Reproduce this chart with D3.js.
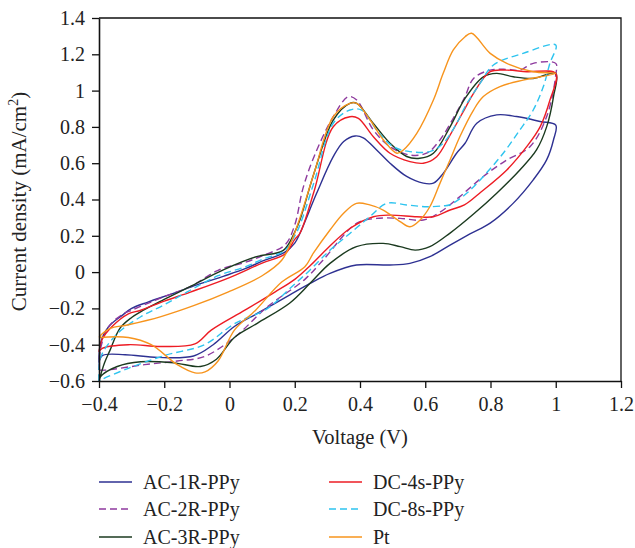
<!DOCTYPE html>
<html>
<head>
<meta charset="utf-8">
<script src="https://cdn.jsdelivr.net/npm/d3@7"></script>
<style>
body{margin:0;background:#fff}
.chart text{font-family:"Liberation Serif","Times New Roman",serif;fill:#222}
</style>
</head>
<body>
<div class="chart"></div>
<script>
// CV loops: [voltage V, current density mA/cm2], forward scan then reverse scan
const ac1R=[[-0.4,-0.5],[-0.395,-0.39],[-0.37,-0.3],[-0.33,-0.24],[-0.3,-0.2],[-0.25,-0.165],[-0.17,-0.116],[-0.1,-0.07],[-0.017,-0.022],[0.05,0.02],[0.1,0.06],[0.17,0.11],[0.2,0.16],[0.216,0.214],[0.267,0.434],[0.318,0.636],[0.35,0.72],[0.385,0.75],[0.41,0.74],[0.451,0.673],[0.492,0.6],[0.543,0.527],[0.594,0.49],[0.625,0.49],[0.655,0.544],[0.696,0.655],[0.722,0.71],[0.758,0.82],[0.819,0.866],[0.88,0.857],[0.952,0.83],[1.0,0.81],
	[0.993,0.728],[0.972,0.618],[0.931,0.508],[0.87,0.38],[0.799,0.27],[0.737,0.21],[0.676,0.149],[0.614,0.085],[0.553,0.048],[0.492,0.039],[0.389,0.039],[0.308,-0.007],[0.247,-0.062],[0.185,-0.125],[0.085,-0.228],[0.015,-0.3],[-0.05,-0.4],[-0.11,-0.462],[-0.22,-0.47],[-0.32,-0.455],[-0.39,-0.46],[-0.4,-0.5]]

const ac2R=[[-0.4,-0.54],[-0.395,-0.42],[-0.37,-0.3],[-0.33,-0.235],[-0.3,-0.21],[-0.2,-0.135],[-0.12,-0.08],[-0.035,0.01],[0.05,0.055],[0.1,0.09],[0.17,0.15],[0.2,0.26],[0.225,0.46],[0.26,0.64],[0.318,0.856],[0.364,0.966],[0.39,0.948],[0.441,0.783],[0.492,0.691],[0.553,0.645],[0.604,0.655],[0.645,0.728],[0.696,0.88],[0.722,0.967],[0.748,1.067],[0.799,1.113],[0.851,1.117],[0.89,1.113],[0.931,1.15],[1.0,1.15],
	[1.0,1.086],[0.972,0.856],[0.921,0.691],[0.85,0.618],[0.778,0.527],[0.706,0.416],[0.645,0.33],[0.594,0.287],[0.523,0.296],[0.451,0.296],[0.389,0.268],[0.287,0.067],[0.231,-0.04],[0.117,-0.19],[0.015,-0.36],[-0.077,-0.465],[-0.16,-0.49],[-0.26,-0.51],[-0.38,-0.54],[-0.4,-0.54]]

const ac3R=[[-0.4,-0.6],[-0.383,-0.5],[-0.366,-0.43],[-0.336,-0.31],[-0.3,-0.25],[-0.274,-0.22],[-0.203,-0.153],[-0.121,-0.08],[-0.019,0.012],[0.083,0.085],[0.165,0.12],[0.2,0.22],[0.216,0.288],[0.26,0.55],[0.318,0.838],[0.369,0.93],[0.39,0.93],[0.441,0.819],[0.492,0.71],[0.543,0.637],[0.583,0.627],[0.625,0.655],[0.676,0.8],[0.722,0.957],[0.778,1.076],[0.819,1.095],[0.87,1.076],[0.931,1.067],[1.0,1.095],
	[0.993,0.966],[0.972,0.8],[0.941,0.673],[0.89,0.563],[0.819,0.435],[0.748,0.32],[0.676,0.215],[0.614,0.14],[0.569,0.121],[0.523,0.14],[0.471,0.158],[0.389,0.14],[0.308,0.048],[0.247,-0.062],[0.185,-0.17],[0.085,-0.282],[0.015,-0.36],[-0.04,-0.48],[-0.089,-0.52],[-0.17,-0.5],[-0.272,-0.494],[-0.344,-0.52],[-0.395,-0.575],[-0.4,-0.6]]

const dc4s=[[-0.4,-0.44],[-0.39,-0.37],[-0.36,-0.3],[-0.31,-0.23],[-0.272,-0.21],[-0.2,-0.16],[-0.12,-0.11],[0,-0.03],[0.1,0.05],[0.17,0.1],[0.2,0.18],[0.216,0.214],[0.26,0.45],[0.318,0.801],[0.369,0.856],[0.395,0.847],[0.441,0.746],[0.492,0.655],[0.553,0.609],[0.594,0.6],[0.635,0.636],[0.676,0.755],[0.722,0.902],[0.748,0.985],[0.799,1.104],[0.85,1.113],[0.911,1.104],[1.0,1.095],
	[0.982,0.947],[0.952,0.8],[0.911,0.691],[0.85,0.563],[0.77,0.44],[0.72,0.37],[0.676,0.342],[0.625,0.305],[0.574,0.305],[0.492,0.314],[0.441,0.305],[0.369,0.24],[0.3,0.13],[0.25,0.04],[0.2,-0.04],[0.139,-0.11],[0.047,-0.21],[-0.056,-0.32],[-0.106,-0.395],[-0.21,-0.41],[-0.31,-0.4],[-0.39,-0.42],[-0.4,-0.44]]

const dc8s=[[-0.4,-0.6],[-0.395,-0.47],[-0.344,-0.34],[-0.272,-0.246],[-0.2,-0.18],[-0.12,-0.1],[-0.035,-0.02],[0.05,0.03],[0.1,0.07],[0.17,0.12],[0.2,0.2],[0.216,0.26],[0.26,0.5],[0.318,0.82],[0.369,0.893],[0.405,0.893],[0.451,0.783],[0.502,0.691],[0.553,0.664],[0.614,0.664],[0.655,0.71],[0.696,0.819],[0.722,0.911],[0.768,1.04],[0.809,1.141],[0.9,1.205],[1.0,1.251],
	[0.982,1.15],[0.962,1.022],[0.931,0.893],[0.89,0.783],[0.839,0.655],[0.778,0.527],[0.727,0.434],[0.676,0.371],[0.655,0.365],[0.604,0.36],[0.543,0.37],[0.482,0.379],[0.43,0.305],[0.369,0.213],[0.308,0.121],[0.247,0.012],[0.185,-0.09],[0.117,-0.2],[0.015,-0.285],[-0.077,-0.4],[-0.2,-0.46],[-0.31,-0.53],[-0.39,-0.59],[-0.4,-0.6]]

const pt=[[-0.4,-0.36],[-0.39,-0.34],[-0.366,-0.31],[-0.31,-0.29],[-0.21,-0.245],[-0.11,-0.185],[-0.005,-0.11],[0.1,-0.02],[0.16,0.065],[0.19,0.17],[0.22,0.32],[0.26,0.55],[0.318,0.856],[0.369,0.93],[0.39,0.93],[0.431,0.838],[0.472,0.728],[0.513,0.655],[0.533,0.673],[0.574,0.764],[0.625,0.948],[0.655,1.095],[0.686,1.224],[0.722,1.297],[0.742,1.316],[0.799,1.205],[0.85,1.15],[0.931,1.104],[1.0,1.095],
	[0.9,1.058],[0.829,1.022],[0.778,0.967],[0.748,0.893],[0.706,0.746],[0.676,0.618],[0.645,0.489],[0.614,0.36],[0.584,0.287],[0.553,0.25],[0.523,0.278],[0.471,0.342],[0.43,0.37],[0.389,0.379],[0.349,0.323],[0.308,0.232],[0.257,0.104],[0.231,0.03],[0.16,-0.055],[0.08,-0.21],[0.015,-0.32],[-0.035,-0.49],[-0.075,-0.55],[-0.106,-0.555],[-0.16,-0.51],[-0.24,-0.4],[-0.31,-0.36],[-0.4,-0.36]]

const names=["AC-1R-PPy","AC-2R-PPy","AC-3R-PPy","DC-4s-PPy","DC-8s-PPy","Pt"]
const colors=["#2e3192","#8e3a9e","#1b3a1f","#ed1c24","#2ec4ef","#f7941d"]
const dashed=[false,true,false,false,true,false]
const xTicks=[-0.4,-0.2,0,0.2,0.4,0.6,0.8,1,1.2]
const yTicks=[-0.6,-0.4,-0.2,0,0.2,0.4,0.6,0.8,1,1.2,1.4]

const series=[ac1R,ac2R,ac3R,dc4s,dc8s,pt].map((d,i)=>({name:names[i],values:d,color:colors[i],dash:dashed[i]}))

const W=635,H=548
const margin=({top:18,right:14,bottom:167,left:99})
const width=W-margin.left-margin.right,
	  height=H-margin.top-margin.bottom

const svg=d3.select('.chart').append('svg')
		.attr('width',W)
		.attr('height',H)

const g=svg.append('g')
		.attr('transform','translate('+margin.left+','+margin.top+')')

const x=d3.scaleLinear().domain([-0.4,1.2]).range([0,width])
const y=d3.scaleLinear().domain([-0.6,1.4]).range([height,0])

const fmt=d=>{
	const s=String(+d.toFixed(1))
	return s.replace('-','\u2212')
}

// frame top/right
g.append('path')
	.attr('d',`M0,0H${width}V${height}`)
	.attr('fill','none')
	.attr('stroke','#111')
	.attr('stroke-width',1.3)

const line=d3.line()
	.x(d=>x(d[0]))
	.y(d=>y(d[1]))
	.curve(d3.curveCatmullRom.alpha(0.5))

g.selectAll('.cv')
	.data(series)
	.enter()
	.append('path')
	.attr('class','cv')
	.attr('d',d=>line(d.values))
	.attr('fill','none')
	.attr('stroke',d=>d.color)
	.attr('stroke-width',1.4)
	.attr('stroke-dasharray',d=>d.dash?'7,4':null)

const xAxis=d3.axisBottom(x).tickValues(xTicks).tickFormat(fmt).tickSizeInner(7).tickSizeOuter(0).tickPadding(9)
const yAxis=d3.axisLeft(y).tickValues(yTicks).tickFormat(fmt).tickSizeInner(7).tickSizeOuter(0).tickPadding(7)

const gx=g.append('g')
	.attr('transform',`translate(0,${height})`)
	.call(xAxis)
const gy=g.append('g')
	.call(yAxis)

for (const a of [gx,gy]){
	a.select('.domain').attr('stroke','#111').attr('stroke-width',1.6)
	a.selectAll('.tick line').attr('stroke','#111').attr('stroke-width',1.3)
	a.selectAll('.tick text').attr('font-size',20).attr('font-family','"Liberation Serif",serif').attr('fill','#222')
}

g.append('text')
	.attr('x',width/2)
	.attr('y',height+63)
	.attr('text-anchor','middle')
	.attr('font-size',20.5)
	.text('Voltage (V)')

const yt=svg.append('text')
	.attr('transform',`translate(26,${margin.top+height/2+2}) rotate(-90)`)
	.attr('text-anchor','middle')
	.attr('font-size',21)
yt.append('tspan').text('Current density (mA/cm')
yt.append('tspan').attr('dy',-8).attr('font-size',14).text('2')
yt.append('tspan').attr('dy',8).text(')')

// legend
const leg=svg.append('g')
const legX=[99,329],legY=[482,509,537]
series.forEach((s,i)=>{
	const cx=legX[Math.floor(i/3)],cy=legY[i%3]
	leg.append('line')
		.attr('x1',cx).attr('x2',cx+33)
		.attr('y1',cy).attr('y2',cy)
		.attr('stroke',s.color)
		.attr('stroke-width',1.5)
		.attr('stroke-dasharray',s.dash?'7,4':null)
	leg.append('text')
		.attr('x',cx+44)
		.attr('y',cy+7)
		.attr('font-size',20)
		.text(s.name)
})
</script>
</body>
</html>
